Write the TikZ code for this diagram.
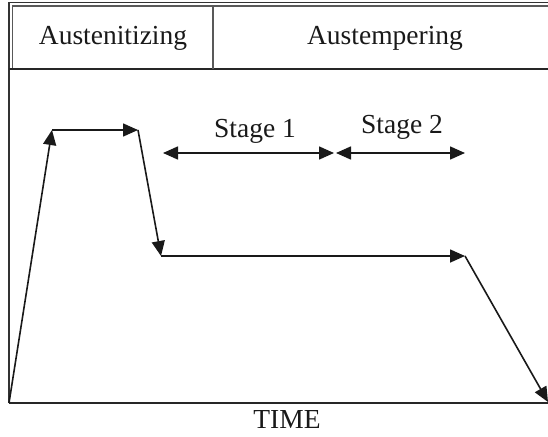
\documentclass[tikz,border=0pt]{standalone}
\usepackage{fontspec}
\setmainfont{Liberation Serif}
\usetikzlibrary{arrows.meta}
\begin{document}
\begin{tikzpicture}[x=1pt,y=-1pt,
  outerline/.style={line width=1.8pt, draw=black!80},
  innerline/.style={line width=1.2pt, draw=black!65},
  axisline/.style={line width=1.8pt, draw=black!85},
  curve/.style={line width=1.6pt, draw=black!90, -{Triangle[length=15pt,width=13pt]}},
  span/.style={line width=1.6pt, draw=black!90, {Triangle[length=15pt,width=13pt]}-{Triangle[length=15pt,width=13pt]}},
  lbl/.style={font=\fontsize{27.5}{30}\selectfont, inner sep=0pt, anchor=base, text=black!90},
]
\useasboundingbox (0,0) rectangle (548,436);
% frame coordinates
\coordinate (fo1) at (9,403);
\coordinate (fo2) at (9,2.5);
\coordinate (fo3) at (548,2.5);
\coordinate (fi1) at (12.5,69);
\coordinate (fi2) at (12.5,6);
\coordinate (fi3) at (548,6);
\coordinate (hb1) at (9,69);
\coordinate (hb2) at (548,69);
\coordinate (dv1) at (213,6);
\coordinate (dv2) at (213,69);
\coordinate (ax1) at (9,403);
\coordinate (ax2) at (548,403);
\draw[outerline] (fo1) -- (fo2) -- (fo3);
\draw[innerline] (fi1) -- (fi2) -- (fi3);
\draw[axisline] (hb1) -- (hb2);
\draw[innerline, line width=1.6pt] (dv1) -- (dv2);
\draw[axisline] (ax1) -- (ax2);
% header labels
\node[lbl] (h1) at (113,45) {Austenitizing};
\node[lbl] (h2) at (385,45) {Austempering};
% curve
\coordinate (p0) at (9,403);
\coordinate (p1) at (52,130);
\coordinate (p2) at (138,130);
\coordinate (p3) at (161,256);
\coordinate (p4) at (465,256);
\coordinate (p5) at (548,402);
\draw[curve] (p0) -- (p1);
\draw[curve] (p1) -- (p2);
\draw[curve] (p2) -- (p3);
\draw[curve] (p3) -- (p4);
\draw[curve] (p4) -- (p5);
% stage spans
\coordinate (s1a) at (163,153);
\coordinate (s1b) at (334,153);
\coordinate (s2a) at (336,153);
\coordinate (s2b) at (465,153);
\draw[span] (s1a) -- (s1b);
\draw[span] (s2a) -- (s2b);
\node[lbl] (st1) at (255,137) {Stage 1};
\node[lbl] (st2) at (402,133) {Stage 2};
% time label
\node[lbl] (time) at (287,428) {TIME};
\end{tikzpicture}
\end{document}
